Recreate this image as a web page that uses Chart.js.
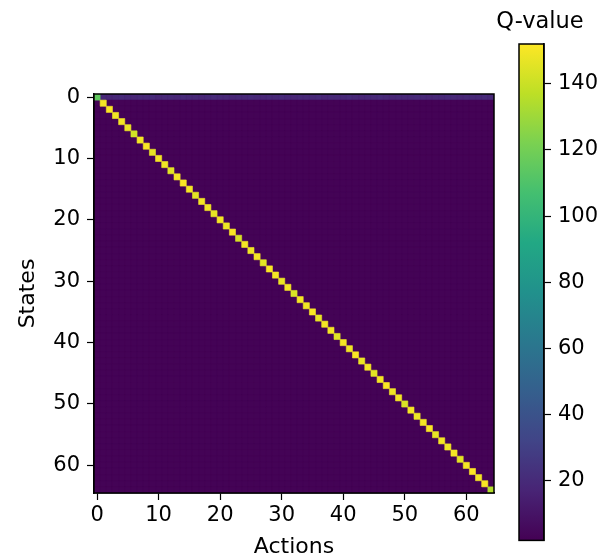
<!DOCTYPE html>
<html>
<head>
<meta charset="utf-8">
<script src="https://cdn.jsdelivr.net/npm/chart.js@4.4.1/dist/chart.umd.min.js"></script>
<style>
body { margin: 0; background: #fff; }
#wrap { position: relative; width: 613px; height: 560px; }
#heat { position: absolute; left: 0; top: 0; width: 510px; height: 560px; }
#cbar { position: absolute; left: 490px; top: 0; width: 123px; height: 560px; }
</style>
</head>
<body>
<div id="wrap">
  <canvas id="heat" width="510" height="560"></canvas>
  <canvas id="cbar" width="123" height="560"></canvas>
</div>
<script>
// categories
const states = Array.from({ length: 65 }, (_, i) => i);
const actions = Array.from({ length: 65 }, (_, i) => i);

// tick labels
const xTicks = [0, 10, 20, 30, 40, 50, 60];
const yTicks = [0, 10, 20, 30, 40, 50, 60];
const cbarTicks = [20, 40, 60, 80, 100, 120, 140];

// colour scale range
const qMin = 2;
const qMax = 152;

// Q-values on the diagonal (state == action)
const diagQ = [115, 150, 151, 149, 150, 148, 142, 150, 151, 147,
               150, 149, 146, 150, 151, 150, 146, 150, 149, 147,
               150, 148, 151, 143, 150, 149, 150, 146, 151, 150,
               148, 150, 144, 150, 149, 151, 147, 150, 150, 145,
               150, 149, 151, 148, 150, 146, 150, 151, 149, 150,
               144, 150, 148, 150, 151, 147, 150, 149, 150, 146,
               150, 152, 150, 151, 135];

// Q-values in state 0 for actions 1..64
const firstRowQ = [19, 18, 19, 20, 19, 18, 19, 19, 20, 18,
                   19, 19, 18, 20, 19, 19, 18, 19, 20, 19,
                   19, 18, 19, 19, 20, 19, 18, 19, 19, 20,
                   19, 18, 19, 19, 19, 20, 18, 19, 19, 19,
                   20, 19, 18, 19, 19, 20, 19, 18, 19, 19,
                   19, 20, 19, 18, 19, 19, 20, 19, 18, 19,
                   19, 19, 20, 19];

// every other cell
const otherQ = 3;

const viridis = ['#440154', '#482475', '#414487', '#355f8d', '#2a788e', '#21918c',
                 '#22a884', '#44bf70', '#7ad151', '#bddf26', '#fde725'];

function hexToRgb(h) {
    return [parseInt(h.slice(1, 3), 16), parseInt(h.slice(3, 5), 16), parseInt(h.slice(5, 7), 16)];
}

function qColor(v) {
    let t = (v - qMin) / (qMax - qMin);
    t = Math.max(0, Math.min(1, t));
    const p = t * (viridis.length - 1);
    const i = Math.min(Math.floor(p), viridis.length - 2);
    const f = p - i;
    const a = hexToRgb(viridis[i]), b = hexToRgb(viridis[i + 1]);
    const c = a.map((x, k) => Math.round(x + (b[k] - x) * f));
    return `rgb(${c[0]},${c[1]},${c[2]})`;
}

const diagCells = [];
const restCells = [];
states.forEach(s => {
    actions.forEach(a => {
        if (s === a) {
            diagCells.push({ x: a, y: s, v: diagQ[s] });
        } else {
            restCells.push({ x: a, y: s, v: s === 0 ? firstRowQ[a - 1] : otherQ });
        }
    });
});

const font = 'DejaVu Sans';

function cellRadius(ctx) {
    const x = ctx.chart.scales.x;
    const size = Math.abs(x.getPixelForValue(1) - x.getPixelForValue(0));
    return size / Math.SQRT2;
}

const cellStyle = {
    pointStyle: 'rect',
    pointRadius: cellRadius,
    pointHoverRadius: cellRadius,
    pointBackgroundColor: ctx => qColor(ctx.raw.v),
    pointBorderColor: ctx => qColor(ctx.raw.v),
    pointBorderWidth: 0.6
};

// fill under the cells so no seams show between them
const underlay = {
    id: 'underlay',
    beforeDatasetsDraw(chart) {
        const a = chart.chartArea;
        const c = chart.ctx;
        c.save();
        c.fillStyle = qColor(otherQ);
        c.fillRect(a.left, a.top, a.right - a.left, a.bottom - a.top);
        c.restore();
    }
};

const frame = {
    id: 'frame',
    afterDraw(chart) {
        const a = chart.chartArea;
        const c = chart.ctx;
        c.save();
        c.strokeStyle = '#000';
        c.lineWidth = 1.5;
        c.strokeRect(a.left, a.top, a.right - a.left, a.bottom - a.top);
        c.restore();
    }
};

new Chart(document.getElementById('heat'), {
    type: 'scatter',
    data: {
        datasets: [
            Object.assign({ label: 'diag', data: diagCells }, cellStyle),
            Object.assign({ label: 'rest', data: restCells }, cellStyle)
        ]
    },
    options: {
        responsive: false,
        animation: false,
        events: [],
        layout: { padding: { top: 94, right: 16, left: 0, bottom: 0 } },
        plugins: { legend: { display: false }, tooltip: { enabled: false } },
        scales: {
            x: {
                type: 'linear',
                min: -0.5,
                max: 64.5,
                afterBuildTicks: axis => { axis.ticks = xTicks.map(v => ({ value: v })); },
                afterFit: axis => { axis.height = 67; },
                ticks: { font: { family: font, size: 21 }, color: '#000', padding: 3, maxRotation: 0 },
                grid: { drawOnChartArea: false, tickLength: 7, color: '#000', tickWidth: 1.2 },
                border: { display: true, color: '#000', width: 1.5 },
                title: { display: true, text: 'Actions', font: { family: font, size: 22 }, color: '#000', padding: { top: 0, bottom: 0 } }
            },
            y: {
                type: 'linear',
                reverse: true,
                min: -0.5,
                max: 64.5,
                afterBuildTicks: axis => { axis.ticks = yTicks.map(v => ({ value: v })); },
                afterFit: axis => { axis.width = 94; },
                ticks: { font: { family: font, size: 21 }, color: '#000', padding: 7 },
                grid: { drawOnChartArea: false, tickLength: 7, color: '#000', tickWidth: 1.2 },
                border: { display: true, color: '#000', width: 1.5 },
                title: { display: true, text: 'States', font: { family: font, size: 22 }, color: '#000', padding: { top: 15, bottom: 0 } }
            }
        }
    },
    plugins: [underlay, frame]
});

const cbarFill = {
    id: 'cbarFill',
    beforeDraw(chart) {
        const a = chart.chartArea;
        const c = chart.ctx;
        const g = c.createLinearGradient(0, a.bottom, 0, a.top);
        viridis.forEach((col, i) => g.addColorStop(i / (viridis.length - 1), col));
        c.save();
        c.fillStyle = g;
        c.fillRect(a.left, a.top, a.right - a.left, a.bottom - a.top);
        c.restore();
    },
    afterDraw(chart) {
        const c = chart.ctx;
        c.save();
        c.fillStyle = '#000';
        c.font = `22.5px "${font}"`;
        c.textAlign = 'center';
        c.textBaseline = 'alphabetic';
        c.fillText('Q-value', 50, 28);
        c.restore();
    }
};

new Chart(document.getElementById('cbar'), {
    type: 'scatter',
    data: { datasets: [] },
    options: {
        responsive: false,
        animation: false,
        events: [],
        layout: { padding: { top: 44, right: 0, left: 29, bottom: 19 } },
        plugins: { legend: { display: false }, tooltip: { enabled: false } },
        scales: {
            x: { display: false, min: 0, max: 1 },
            y: {
                type: 'linear',
                position: 'right',
                min: qMin,
                max: qMax,
                afterBuildTicks: axis => { axis.ticks = cbarTicks.map(v => ({ value: v })); },
                afterFit: axis => { axis.width = 69; },
                ticks: { font: { family: font, size: 21 }, color: '#000', padding: 7 },
                grid: { drawOnChartArea: false, tickLength: 7, color: '#000', tickWidth: 1.2 },
                border: { display: true, color: '#000', width: 1.5 }
            }
        }
    },
    plugins: [cbarFill, frame]
});
</script>
</body>
</html>
